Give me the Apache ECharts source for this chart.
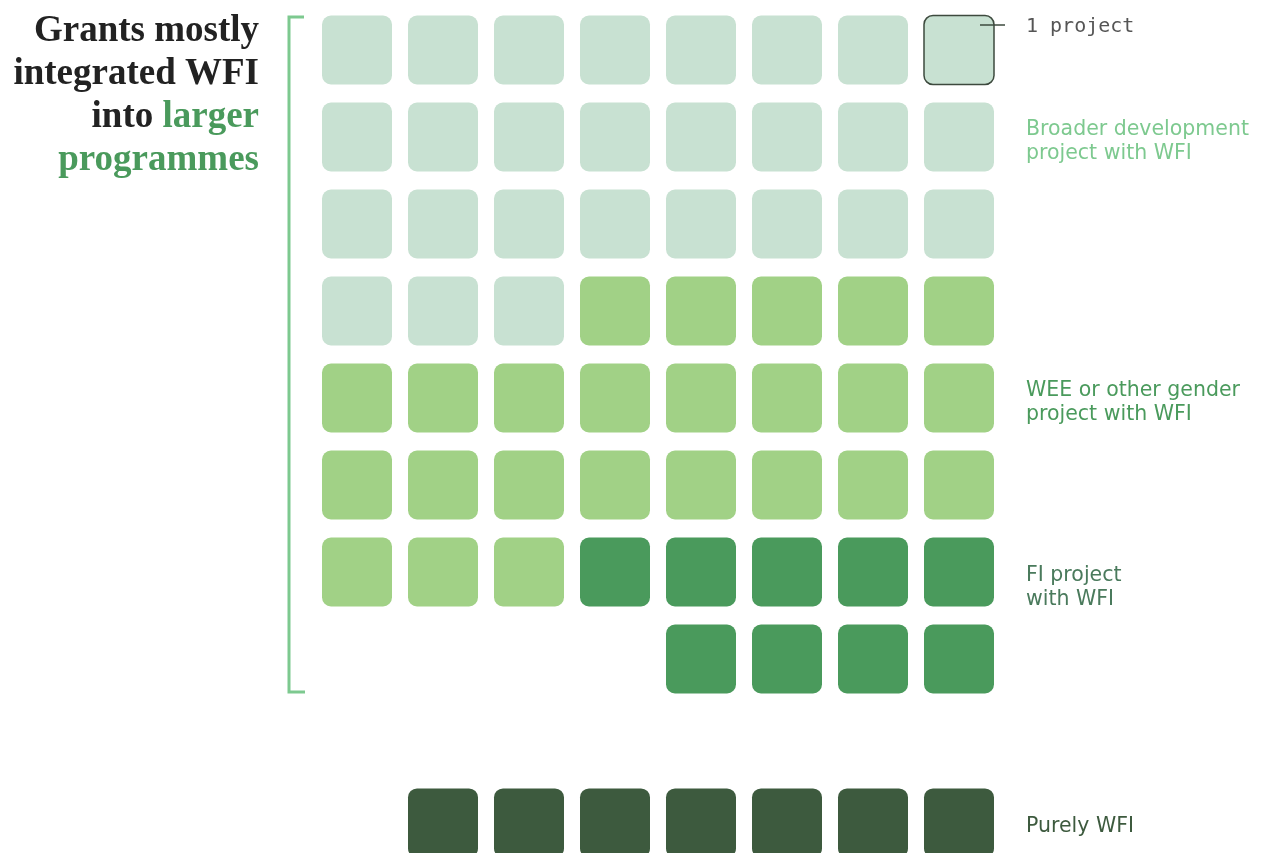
<!DOCTYPE html>
<html>
<head>
<meta charset="utf-8">
<script src="https://cdn.jsdelivr.net/npm/echarts@6/dist/echarts.min.js"></script>
<style>
  html, body { margin: 0; padding: 0; background: #fff; }
  #chart { width: 1262px; height: 853px; }
</style>
</head>
<body>
<div id="chart"></div>
<script>
// waffle: one square = one project
var COLS = 8;
var categories = ['Broader development\nproject with WFI', 'WEE or other gender\nproject with WFI', 'FI project\nwith WFI'];
var counts = [27, 24, 9];
var pureLabel = 'Purely WFI';
var pureCount = 7;
var colors = ['#c8e1d2', '#a1d186', '#4a9a5c'];
var pureColor = '#3d5a3e';
var labelColors = ['#7dc98f', '#4a9a5c', '#4a7a5c'];
var titleLines = ['{d|Grants mostly}', '{d|integrated WFI}', '{d|into }{g|larger}', '{g|programmes}'];

// fill rows left to right; the last partial row is pushed to the right
function layout(cnts) {
  var total = cnts.reduce(function (a, b) { return a + b; }, 0);
  var fullRows = Math.floor(total / COLS);
  var rem = total % COLS;
  var out = [];
  var k = 0;
  cnts.forEach(function (n, ci) {
    for (var j = 0; j < n; j++, k++) {
      var row = Math.floor(k / COLS);
      var col = k % COLS;
      if (row === fullRows) col = COLS - rem + col;
      out.push([col, row, ci, 0]);
    }
  });
  return out;
}

var mainData = layout(counts);
// key square: last one of the first row
mainData.forEach(function (d) { if (d[0] === COLS - 1 && d[1] === 0) d[3] = 1; });
var pureData = layout([pureCount]);

function cell(palette) {
  return function (params, api) {
    var c = api.coord([api.value(0), api.value(1)]);
    var s = api.size([1, 1]);
    var w = s[0] - 16, h = w - 1;
    var key = api.value(3) === 1;
    return {
      type: 'rect',
      shape: { x: c[0] - w / 2, y: c[1] - h / 2, width: w, height: h, r: 9 },
      style: {
        fill: palette[api.value(2)],
        stroke: key ? '#3d4a3e' : null,
        lineWidth: key ? 1.5 : 0
      }
    };
  };
}

var chart = echarts.init(document.getElementById('chart'));

var labelFont = '"DejaVu Sans", sans-serif';
var labelY = [142, 403, 588];
var serif = '"Liberation Serif", serif';
var graphics = [
  {
    type: 'polyline', z: 100,
    shape: { points: [[304, 17], [289, 17], [289, 692], [305, 692]] },
    style: { stroke: '#7dc98f', lineWidth: 3, fill: null }
  },
  {
    type: 'line', z: 100,
    shape: { x1: 980, y1: 25, x2: 1005, y2: 25 },
    style: { stroke: '#3d4a3e', lineWidth: 1.5 }
  },
  {
    type: 'text', x: 1026, y: 27, z: 100,
    style: { text: '1 project', fontFamily: '"DejaVu Sans Mono", monospace', fontSize: 20, fill: '#555', verticalAlign: 'middle' }
  },
  {
    type: 'text', x: 1026, y: 827, z: 100,
    style: { text: pureLabel, fontFamily: labelFont, fontSize: 20.5, fill: pureColor, verticalAlign: 'middle' }
  }
];
titleLines.forEach(function (t, i) {
  graphics.push({
    type: 'text', x: 259, y: 31 + 43 * i, z: 100,
    style: {
      text: t, align: 'right', verticalAlign: 'middle',
      rich: {
        d: { fontFamily: serif, fontWeight: 'bold', fontSize: 37, fill: '#222' },
        g: { fontFamily: serif, fontWeight: 'bold', fontSize: 37, fill: '#4a9a5c' }
      }
    }
  });
});
categories.forEach(function (c, i) {
  graphics.push({
    type: 'text', x: 1026, y: labelY[i], z: 100,
    style: { text: c, fontFamily: labelFont, fontSize: 20.5, lineHeight: 24, fill: labelColors[i], verticalAlign: 'middle' }
  });
});

chart.setOption({
  animation: false,
  grid: [
    { left: 314, top: 6.5, width: 688, height: 696 },
    // bottom row runs past the page edge, so its axis is cut short
    { left: 314, top: 780, width: 688, height: 73 }
  ],
  xAxis: [
    { gridIndex: 0, type: 'value', min: -0.5, max: 7.5, show: false },
    { gridIndex: 1, type: 'value', min: -0.5, max: 7.5, show: false }
  ],
  yAxis: [
    { gridIndex: 0, type: 'value', min: -0.5, max: 7.5, inverse: true, show: false },
    { gridIndex: 1, type: 'value', min: -0.5, max: 0.35, inverse: true, show: false }
  ],
  series: [
    { type: 'custom', xAxisIndex: 0, yAxisIndex: 0, renderItem: cell(colors), data: mainData },
    { type: 'custom', xAxisIndex: 1, yAxisIndex: 1, renderItem: cell([pureColor]), data: pureData, clip: false }
  ],
  graphic: graphics
});
</script>
</body>
</html>
